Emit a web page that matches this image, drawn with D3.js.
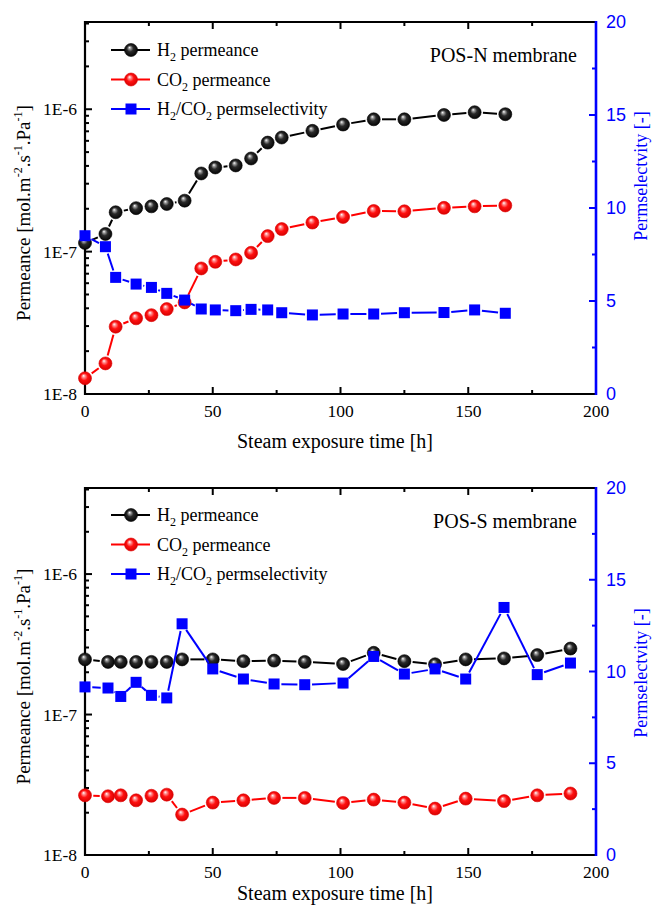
<!DOCTYPE html>
<html><head><meta charset="utf-8">
<script src="https://cdn.jsdelivr.net/npm/d3@7/dist/d3.min.js"></script>
<style>body{margin:0;background:#fff}svg{display:block}</style>
</head><body>
<script>
// ---- Data (POS-N membrane, top) ----
const timeN = [0, 8, 12, 20, 26, 32, 39, 45.5, 51, 59, 65, 71.5, 77, 89, 101, 113, 125, 140.5, 152.5, 164.5];
const h2N   = [1.15e-7, 1.33e-7, 1.89e-7, 2.02e-7, 2.08e-7, 2.16e-7, 2.28e-7, 3.54e-7, 3.90e-7, 4.03e-7, 4.51e-7, 5.83e-7, 6.33e-7, 7.05e-7, 7.81e-7, 8.5e-7, 8.5e-7, 9.12e-7, 9.53e-7, 9.23e-7];
const co2N  = [1.29e-8, 1.64e-8, 2.97e-8, 3.40e-8, 3.58e-8, 3.95e-8, 4.40e-8, 7.62e-8, 8.48e-8, 8.81e-8, 9.81e-8, 1.285e-7, 1.44e-7, 1.60e-7, 1.75e-7, 1.93e-7, 1.92e-7, 2.03e-7, 2.08e-7, 2.11e-7];
const selN  = [8.51, 7.92, 6.27, 5.91, 5.73, 5.41, 5.05, 4.57, 4.52, 4.48, 4.55, 4.52, 4.37, 4.25, 4.30, 4.30, 4.37, 4.38, 4.52, 4.34];

// ---- Data (POS-S membrane, bottom) ----
const timeS = [0, 9, 14, 20, 26, 32, 38, 50, 62, 74, 86, 101, 113, 125, 137, 149, 164, 177, 190];
const h2S   = [2.47e-7, 2.37e-7, 2.37e-7, 2.37e-7, 2.37e-7, 2.37e-7, 2.47e-7, 2.47e-7, 2.40e-7, 2.42e-7, 2.37e-7, 2.29e-7, 2.75e-7, 2.40e-7, 2.28e-7, 2.47e-7, 2.51e-7, 2.65e-7, 2.95e-7];
const co2S  = [2.66e-8, 2.62e-8, 2.66e-8, 2.45e-8, 2.64e-8, 2.69e-8, 1.94e-8, 2.36e-8, 2.45e-8, 2.55e-8, 2.55e-8, 2.35e-8, 2.48e-8, 2.36e-8, 2.14e-8, 2.52e-8, 2.42e-8, 2.66e-8, 2.74e-8];
const selS  = [9.16, 9.10, 8.64, 9.41, 8.70, 8.56, 12.60, 10.14, 9.59, 9.32, 9.28, 9.37, 10.82, 9.86, 10.14, 9.59, 13.49, 9.83, 10.46];

// ---- Axis settings ----
const xDomain = [0, 200];
const xMajor = [0, 50, 100, 150, 200];
const xMinor = [25, 75, 125, 175];
const yDomain = [1e-8, 4.1e-6];
const yMajor = [1e-8, 1e-7, 1e-6];
const yMajorLabels = ["1E-8", "1E-7", "1E-6"];
const y2Domain = [0, 20];
const y2Major = [0, 5, 10, 15, 20];
const y2Minor = [2.5, 7.5, 12.5, 17.5];
const seriesNames = ["H2 permeance", "CO2 permeance", "H2/CO2 permselectivity"];

const W = 654, H = 906;
const svg = d3.select("body").append("svg").attr("width", W).attr("height", H);
const defs = svg.append("defs");
function sphereGrad(id, stops) {
  const g = defs.append("radialGradient").attr("id", id)
    .attr("cx", "50%").attr("cy", "50%").attr("r", "55%").attr("fx", "38%").attr("fy", "30%");
  stops.forEach(s => g.append("stop").attr("offset", s[0]).attr("stop-color", s[1]));
}
sphereGrad("gBlack", [["0%", "#ffffff"], ["18%", "#9a9a9a"], ["45%", "#2a2a2a"], ["100%", "#000000"]]);
sphereGrad("gRed", [["0%", "#ffffff"], ["20%", "#ff9090"], ["50%", "#ff1010"], ["100%", "#d00000"]]);

const SERIF = "'Liberation Serif','Times New Roman',serif";
const SANS = "'Liberation Sans',Arial,sans-serif";
const BLUE = "#0000ff";
const R = 6.5, SQ = 11;

function subText(t, name, subSize, shift) {
  const parts = name.split(/(2)/).filter(p => p !== "");
  let pending = 0;
  parts.forEach(p => {
    const ts = t.append("tspan").text(p);
    if (p === "2") { ts.attr("font-size", subSize).attr("dy", shift); pending = -shift; }
    else if (pending) { ts.attr("dy", pending); pending = 0; }
  });
}

function drawPanel(cfg) {
  const g = svg.append("g");
  const x = d3.scaleLinear().domain(xDomain).range([85, 596]);
  const y = d3.scaleLog().domain(yDomain).range([cfg.bottom, cfg.top]);
  const y2 = d3.scaleLinear().domain(y2Domain).range([cfg.bottom, cfg.top]);

  // ticks (inward)
  const tk = g.append("g").attr("stroke", "#000").attr("stroke-width", 2);
  xMajor.forEach(v => {
    tk.append("line").attr("x1", x(v)).attr("x2", x(v)).attr("y1", cfg.bottom).attr("y2", cfg.bottom - 7);
    tk.append("line").attr("x1", x(v)).attr("x2", x(v)).attr("y1", cfg.top).attr("y2", cfg.top + 7);
  });
  xMinor.forEach(v => {
    tk.append("line").attr("x1", x(v)).attr("x2", x(v)).attr("y1", cfg.bottom).attr("y2", cfg.bottom - 4);
    tk.append("line").attr("x1", x(v)).attr("x2", x(v)).attr("y1", cfg.top).attr("y2", cfg.top + 4);
  });
  y.ticks().forEach(v => {
    const major = yMajor.some(m => Math.abs(m - v) / m < 1e-6);
    tk.append("line").attr("x1", 85).attr("x2", 85 + (major ? 7 : 4)).attr("y1", y(v)).attr("y2", y(v));
  });
  const tk2 = g.append("g").attr("stroke", BLUE).attr("stroke-width", 2);
  y2Major.forEach(v => tk2.append("line").attr("x1", 596).attr("x2", 589).attr("y1", y2(v)).attr("y2", y2(v)));
  y2Minor.forEach(v => tk2.append("line").attr("x1", 596).attr("x2", 592).attr("y1", y2(v)).attr("y2", y2(v)));

  // frame
  g.append("path").attr("d", `M596,${cfg.top}H85V${cfg.bottom}H596`).attr("fill", "none")
    .attr("stroke", "#000").attr("stroke-width", 2.2);
  g.append("line").attr("x1", 596).attr("x2", 596).attr("y1", cfg.top - 1).attr("y2", cfg.bottom + 1)
    .attr("stroke", BLUE).attr("stroke-width", 2.6);

  // tick labels
  xMajor.forEach(v => g.append("text").attr("x", x(v)).attr("y", cfg.bottom + 23).attr("text-anchor", "middle")
    .attr("font-family", SERIF).attr("font-size", 17.5).text(v));
  yMajor.forEach((v, i) => g.append("text").attr("x", 77).attr("y", y(v) + 6).attr("text-anchor", "end")
    .attr("font-family", SERIF).attr("font-size", 17.5).text(yMajorLabels[i]));
  y2Major.forEach(v => g.append("text").attr("x", 606).attr("y", y2(v) + 6).attr("fill", BLUE)
    .attr("font-family", SANS).attr("font-size", 18).text(v));

  // axis titles
  g.append("text").attr("x", 335).attr("y", cfg.xTitleY).attr("text-anchor", "middle")
    .attr("font-family", SERIF).attr("font-size", 20).text("Steam exposure time [h]");
  const lt = g.append("text").attr("transform", `translate(30,${(cfg.top + cfg.bottom) / 2 + 5}) rotate(-90)`)
    .attr("text-anchor", "middle").attr("font-family", SERIF).attr("font-size", 19);
  lt.append("tspan").text("Permeance [mol.m");
  lt.append("tspan").attr("font-size", 12).attr("dy", -8).text("-2");
  lt.append("tspan").attr("dy", 8).text(".s");
  lt.append("tspan").attr("font-size", 12).attr("dy", -8).text("-1");
  lt.append("tspan").attr("dy", 8).text(".Pa");
  lt.append("tspan").attr("font-size", 12).attr("dy", -8).text("-1");
  lt.append("tspan").attr("dy", 8).text("]");
  g.append("text").attr("transform", `translate(647,${cfg.rTitleY}) rotate(-90)`)
    .attr("text-anchor", "middle").attr("fill", BLUE).attr("font-family", SERIF).attr("font-size", 18)
    .text("Permselectvity [-]");

  // membrane label
  g.append("text").attr("x", 577).attr("y", cfg.top + 40).attr("text-anchor", "end")
    .attr("font-family", SERIF).attr("font-size", 20).text(cfg.label);

  // series
  const series = [
    { vals: cfg.h2, sc: y, color: "#000", marker: "ball", grad: "url(#gBlack)" },
    { vals: cfg.co2, sc: y, color: "#ff0000", marker: "ball", grad: "url(#gRed)" },
    { vals: cfg.sel, sc: y2, color: BLUE, marker: "square" }
  ];
  series.forEach(s => {
    const pts = cfg.time.map((t, i) => [x(t), s.sc(s.vals[i])]);
    const gap = (s.marker === "ball" ? R : SQ / 2) + 1.8;
    const sg = g.append("g").attr("stroke", s.color).attr("stroke-width", 2);
    for (let i = 0; i < pts.length - 1; i++) {
      const [x1, y1] = pts[i], [x2, y2b] = pts[i + 1];
      const dx = x2 - x1, dy = y2b - y1, L = Math.hypot(dx, dy);
      if (L <= 2 * gap + 0.5) continue;
      const ux = dx / L, uy = dy / L;
      sg.append("line").attr("x1", x1 + ux * gap).attr("y1", y1 + uy * gap)
        .attr("x2", x2 - ux * gap).attr("y2", y2b - uy * gap);
    }
    const mg = g.append("g");
    pts.forEach(p => {
      if (s.marker === "ball") mg.append("circle").attr("cx", p[0]).attr("cy", p[1]).attr("r", R)
        .attr("fill", s.grad).attr("stroke", s.color === "#000" ? "#000" : "#e00000").attr("stroke-width", 0.6);
      else mg.append("rect").attr("x", p[0] - SQ / 2).attr("y", p[1] - SQ / 2).attr("width", SQ).attr("height", SQ)
        .attr("fill", BLUE);
    });
  });

  // legend
  const lg = g.append("g");
  series.forEach((s, i) => {
    const ly = cfg.legendY + i * 29.5;
    lg.append("line").attr("x1", 111).attr("x2", 150).attr("y1", ly).attr("y2", ly)
      .attr("stroke", s.color).attr("stroke-width", 2);
    if (s.marker === "ball") lg.append("circle").attr("cx", 131).attr("cy", ly).attr("r", R).attr("fill", s.grad)
      .attr("stroke", s.color === "#000" ? "#000" : "#e00000").attr("stroke-width", 0.6);
    else lg.append("rect").attr("x", 131 - SQ / 2).attr("y", ly - SQ / 2).attr("width", SQ).attr("height", SQ).attr("fill", BLUE);
    const t = lg.append("text").attr("x", 157).attr("y", ly + 6).attr("font-family", SERIF).attr("font-size", 18);
    subText(t, seriesNames[i], 12, 5);
  });
}

drawPanel({ top: 22, bottom: 394, time: timeN, h2: h2N, co2: co2N, sel: selN, label: "POS-N membrane",
  legendY: 50, xTitleY: 448, rTitleY: 176 });
drawPanel({ top: 488, bottom: 855, time: timeS, h2: h2S, co2: co2S, sel: selS, label: "POS-S membrane",
  legendY: 515, xTitleY: 900, rTitleY: 673 });
</script>
</body></html>
